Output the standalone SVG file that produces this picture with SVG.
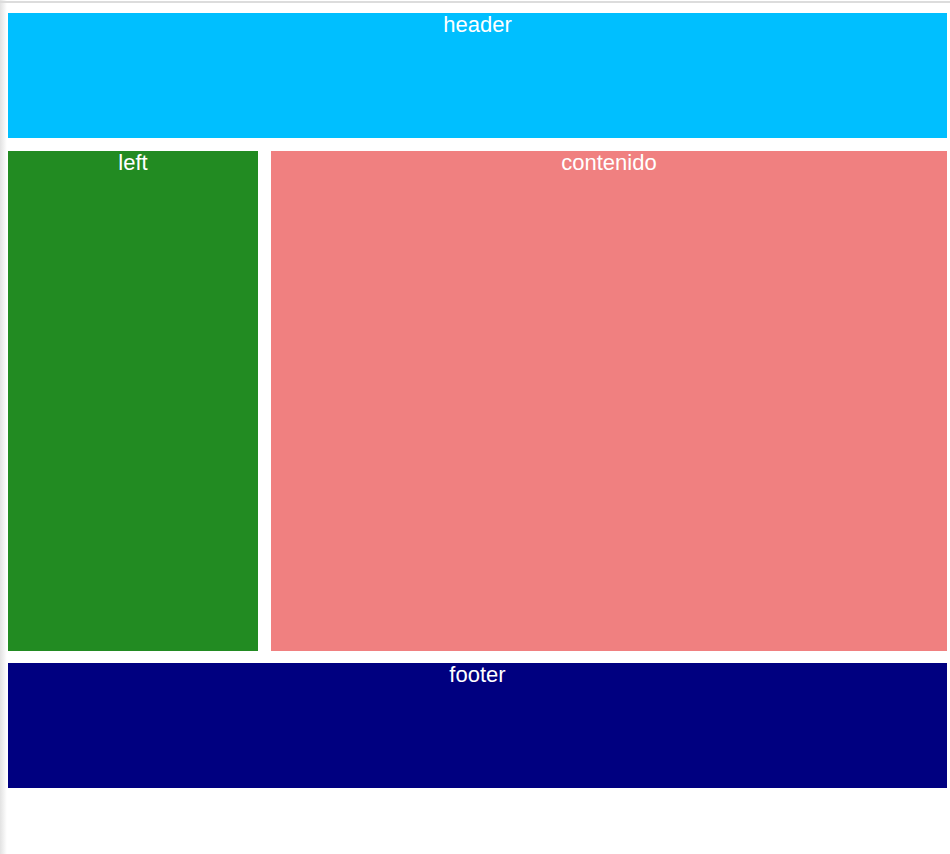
<svg xmlns="http://www.w3.org/2000/svg" width="950" height="854" viewBox="0 0 950 854">
<defs>
<linearGradient id="sh" x1="0" y1="0" x2="1" y2="0">
<stop offset="0" stop-color="#e2e2e2"/>
<stop offset="1" stop-color="#ffffff"/>
</linearGradient>
<style>
.t{font-family:"Liberation Sans",Arial,sans-serif;font-size:22px;fill:#ffffff;text-anchor:middle}
</style>
</defs>
<rect x="0" y="0" width="950" height="854" fill="#ffffff"/>
<rect x="0" y="0" width="7" height="854" fill="url(#sh)"/>
<rect x="0" y="1" width="950" height="2" fill="#dcdcdc"/>
<g id="header">
<rect x="8" y="13" width="939" height="125" fill="#00bfff"/>
<text class="t" x="477.5" y="32">header</text>
</g>
<g id="left">
<rect x="8" y="151" width="250" height="500" fill="#228b22"/>
<text class="t" x="133" y="170">left</text>
</g>
<g id="contenido">
<rect x="271" y="151" width="676" height="500" fill="#f08080"/>
<text class="t" x="609" y="170">contenido</text>
</g>
<g id="footer">
<rect x="8" y="663" width="939" height="125" fill="#000080"/>
<text class="t" x="477.5" y="682">footer</text>
</g>
<g id="connectors"/>
</svg>
